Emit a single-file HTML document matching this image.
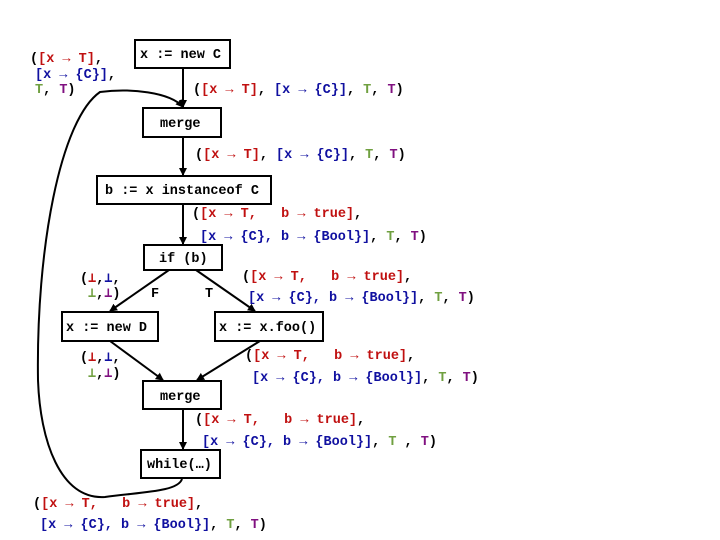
<!DOCTYPE html>
<html><head><meta charset="utf-8"><style>
html,body{margin:0;padding:0;background:#fff;width:720px;height:540px;overflow:hidden}
text{font-family:"Liberation Mono","DejaVu Sans Mono",monospace;font-weight:bold;font-size:13.5px;white-space:pre}
.r{fill:#c01010}.b{fill:#1010a0}.g{fill:#70a040}.p{fill:#801080}.k{fill:#000}
</style></head><body>
<svg width="720" height="540" xmlns="http://www.w3.org/2000/svg" xml:space="preserve">
<defs><marker id="a" markerWidth="8" markerHeight="8" refX="7" refY="4" orient="auto" markerUnits="userSpaceOnUse"><path d="M0,0 L8,4 L0,8 z" fill="#000"/></marker></defs>
<g fill="none" stroke="#000" stroke-width="2">
<rect x="135" y="40" width="95" height="28"/>
<rect x="143" y="108" width="78" height="29"/>
<rect x="97" y="176" width="174" height="28"/>
<rect x="144" y="245" width="78" height="25"/>
<rect x="62" y="312" width="96" height="29"/>
<rect x="215" y="312" width="108" height="29"/>
<rect x="143" y="381" width="78" height="28"/>
<rect x="141" y="450" width="79" height="28"/>
<line x1="183" y1="68" x2="183" y2="107" marker-end="url(#a)"/>
<line x1="183" y1="137" x2="183" y2="175" marker-end="url(#a)"/>
<line x1="183" y1="204" x2="183" y2="244" marker-end="url(#a)"/>
<line x1="169" y1="270" x2="110" y2="311" marker-end="url(#a)"/>
<line x1="196" y1="270" x2="255" y2="311" marker-end="url(#a)"/>
<line x1="110" y1="341" x2="163" y2="380" marker-end="url(#a)"/>
<line x1="260" y1="341" x2="197" y2="380" marker-end="url(#a)"/>
<line x1="183" y1="409" x2="183" y2="449" marker-end="url(#a)"/>
<path d="M182,479 C178,492 140,492 105,497 C60,500 40,440 38,380 C36,250 60,120 100,92 C130,88 170,92 183,107" marker-end="url(#a)"/>
</g>
<text x="30" y="62"><tspan class="k">(</tspan><tspan class="r">[x → T]</tspan><tspan class="k">,</tspan></text>
<text x="35" y="78"><tspan class="b">[x → {C}]</tspan><tspan class="k">,</tspan></text>
<text x="35" y="93"><tspan class="g">T</tspan><tspan class="k">, </tspan><tspan class="p">T</tspan><tspan class="k">)</tspan></text>
<text x="140" y="58" class="k">x := new C</text>
<text x="193" y="93"><tspan class="k">(</tspan><tspan class="r">[x → T]</tspan><tspan class="k">, </tspan><tspan class="b">[x → {C}]</tspan><tspan class="k">, </tspan><tspan class="g">T</tspan><tspan class="k">, </tspan><tspan class="p">T</tspan><tspan class="k">)</tspan></text>
<text x="160" y="127" class="k">merge</text>
<text x="195" y="158"><tspan class="k">(</tspan><tspan class="r">[x → T]</tspan><tspan class="k">, </tspan><tspan class="b">[x → {C}]</tspan><tspan class="k">, </tspan><tspan class="g">T</tspan><tspan class="k">, </tspan><tspan class="p">T</tspan><tspan class="k">)</tspan></text>
<text x="105" y="194" class="k">b := x instanceof C</text>
<text x="192" y="217"><tspan class="k">(</tspan><tspan class="r">[x → T,   b → true]</tspan><tspan class="k">,</tspan></text>
<text x="200" y="240"><tspan class="b">[x → {C}, b → {Bool}]</tspan><tspan class="k">, </tspan><tspan class="g">T</tspan><tspan class="k">, </tspan><tspan class="p">T</tspan><tspan class="k">)</tspan></text>
<text x="159" y="262" class="k">if (b)</text>
<text x="80" y="282"><tspan class="k">(</tspan><tspan class="r">⊥</tspan><tspan class="k">,</tspan><tspan class="b">⊥</tspan><tspan class="k">,</tspan></text>
<text x="88" y="297"><tspan class="g">⊥</tspan><tspan class="k">,</tspan><tspan class="p">⊥</tspan><tspan class="k">)</tspan></text>
<text x="151" y="297" class="k">F</text>
<text x="205" y="297" class="k">T</text>
<text x="242" y="280"><tspan class="k">(</tspan><tspan class="r">[x → T,   b → true]</tspan><tspan class="k">,</tspan></text>
<text x="248" y="301"><tspan class="b">[x → {C}, b → {Bool}]</tspan><tspan class="k">, </tspan><tspan class="g">T</tspan><tspan class="k">, </tspan><tspan class="p">T</tspan><tspan class="k">)</tspan></text>
<text x="66" y="331" class="k">x := new D</text>
<text x="219" y="331" class="k">x := x.foo()</text>
<text x="80" y="361"><tspan class="k">(</tspan><tspan class="r">⊥</tspan><tspan class="k">,</tspan><tspan class="b">⊥</tspan><tspan class="k">,</tspan></text>
<text x="88" y="377"><tspan class="g">⊥</tspan><tspan class="k">,</tspan><tspan class="p">⊥</tspan><tspan class="k">)</tspan></text>
<text x="245" y="359"><tspan class="k">(</tspan><tspan class="r">[x → T,   b → true]</tspan><tspan class="k">,</tspan></text>
<text x="252" y="381"><tspan class="b">[x → {C}, b → {Bool}]</tspan><tspan class="k">, </tspan><tspan class="g">T</tspan><tspan class="k">, </tspan><tspan class="p">T</tspan><tspan class="k">)</tspan></text>
<text x="160" y="400" class="k">merge</text>
<text x="195" y="423"><tspan class="k">(</tspan><tspan class="r">[x → T,   b → true]</tspan><tspan class="k">,</tspan></text>
<text x="202" y="445"><tspan class="b">[x → {C}, b → {Bool}]</tspan><tspan class="k">, </tspan><tspan class="g">T</tspan><tspan class="k"> , </tspan><tspan class="p">T</tspan><tspan class="k">)</tspan></text>
<text x="147" y="468" class="k">while(…)</text>
<text x="33" y="507"><tspan class="k">(</tspan><tspan class="r">[x → T,   b → true]</tspan><tspan class="k">,</tspan></text>
<text x="40" y="528"><tspan class="b">[x → {C}, b → {Bool}]</tspan><tspan class="k">, </tspan><tspan class="g">T</tspan><tspan class="k">, </tspan><tspan class="p">T</tspan><tspan class="k">)</tspan></text>
</svg>
</body></html>
